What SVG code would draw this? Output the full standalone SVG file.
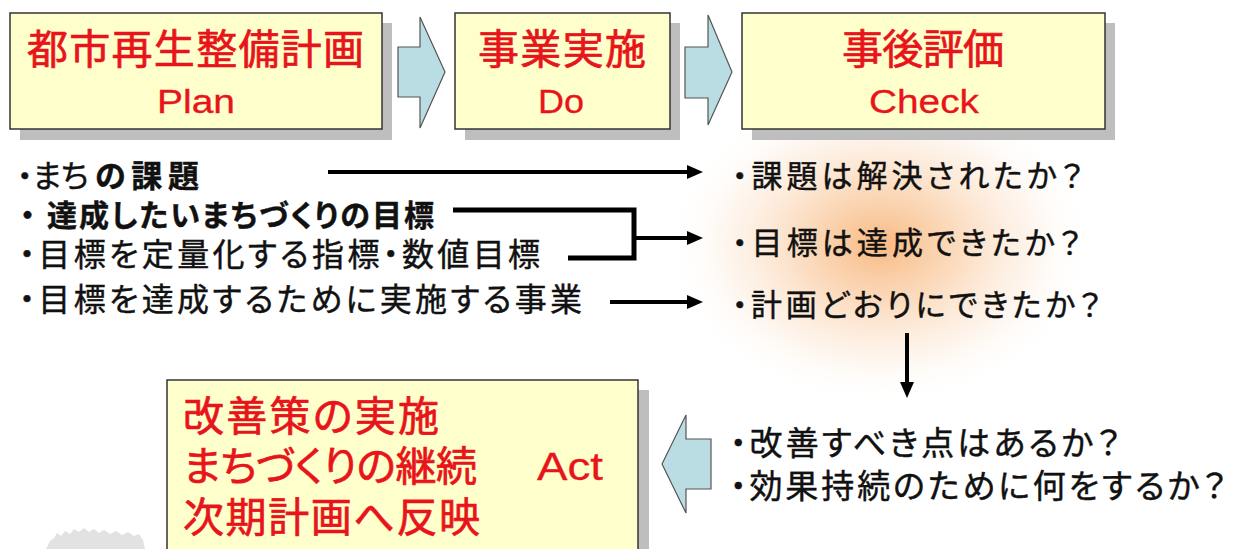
<svg xmlns="http://www.w3.org/2000/svg" width="1233" height="549" viewBox="0 0 1233 549">
<defs>
<style>
.jp{font-family:"Noto Sans CJK JP","Noto Sans CJK SC",sans-serif;font-feature-settings:"palt";}
.lat{font-family:"Liberation Sans",Arial,sans-serif;}
.red{fill:#E8141B;stroke:#E8141B;stroke-width:0.7;}
.lat.red{stroke-width:0.3;}
.blk{fill:#111;stroke:#111;stroke-width:0.45;}
.box{fill:#FFFFCC;stroke:#333;stroke-width:1.5;}
.shadow{fill:#BEBEBE;}
.barrow{fill:#B9DDE2;stroke:#555;stroke-width:1.2;stroke-linejoin:miter;}
.con{fill:none;stroke:#000;stroke-width:4;}
.bracket{fill:none;stroke:#000;stroke-width:5;stroke-linejoin:miter;}
.t1{font-size:41px;}
.t2{font-size:33px;}
.t3{font-size:41px;}
.l30{font-size:30px;}
.l32{font-size:32px;}
.l31{font-size:31px;}
.l33{font-size:33px;}
</style>
<marker id="ah" markerWidth="16" markerHeight="14" refX="2" refY="7" orient="auto" markerUnits="userSpaceOnUse">
<path d="M0,0 L16,7 L0,14 z" fill="#000"/>
</marker>
<radialGradient id="glow" cx="0.5" cy="0.5" r="0.5">
<stop offset="0" stop-color="#F6A862" stop-opacity="0.8"/>
<stop offset="0.35" stop-color="#F8BC86" stop-opacity="0.55"/>
<stop offset="0.7" stop-color="#FBDABC" stop-opacity="0.28"/>
<stop offset="1" stop-color="#FFFFFF" stop-opacity="0"/>
</radialGradient>
</defs>
<rect x="0" y="0" width="1233" height="549" fill="#FFFFFF"/>
<ellipse cx="880" cy="245" rx="215" ry="160" fill="url(#glow)"/>
<path d="M46,549 L50,541 L54,538 L57,533 L61,536 L65,531 L70,534 L74,529 L79,532 L84,528 L89,532 L94,529 L99,533 L104,530 L110,534 L116,531 L122,535 L128,532 L134,536 L139,534 L143,540 L145,549 Z" fill="#CFCFCF" opacity="0.6"/>

<g id="plan">
<rect class="shadow" x="20" y="23" width="372" height="117"/>
<rect class="box" x="10" y="13" width="372" height="116"/>
<text class="jp red t1" x="27" y="64" textLength="337">都市再生整備計画</text>
<text class="lat red t2" x="157" y="113" textLength="78" lengthAdjust="spacingAndGlyphs">Plan</text>
</g>

<g id="do">
<rect class="shadow" x="465" y="23" width="215" height="117"/>
<rect class="box" x="455" y="13" width="215" height="116"/>
<text class="jp red t1" x="478" y="64" textLength="168">事業実施</text>
<text class="lat red t2" x="538" y="113" textLength="46" lengthAdjust="spacingAndGlyphs">Do</text>
</g>

<g id="check">
<rect class="shadow" x="752" y="23" width="363" height="117"/>
<rect class="box" x="742" y="13" width="363" height="116"/>
<text class="jp red t1" x="842" y="64" textLength="162">事後評価</text>
<text class="lat red t2" x="869" y="113" textLength="110" lengthAdjust="spacingAndGlyphs">Check</text>
</g>

<g id="act">
<rect class="shadow" x="177" y="390" width="472" height="170"/>
<rect class="box" x="167" y="380" width="471" height="175"/>
<text class="jp red t3" x="183" y="431" textLength="256">改善策の実施</text>
<text class="jp red t3" x="183" y="481" textLength="294">まちづくりの継続</text>
<text class="jp red t3" x="183" y="532" textLength="297">次期計画へ反映</text>
<text class="lat red" style="font-size:39px" x="537" y="480" textLength="66" lengthAdjust="spacingAndGlyphs">Act</text>
</g>

<g id="plan-items">
<text class="jp blk l31" x="17" y="187">・まち</text>
<text class="jp blk l31" x="95" y="187" textLength="104" font-weight="bold">の課題</text>
<text class="jp blk l30" x="20" y="226" font-weight="bold">・</text>
<text class="jp blk l30" x="47" y="226" textLength="387" font-weight="bold">達成したいまちづくりの目標</text>
<text class="jp blk l32" x="19" y="266" textLength="521">・目標を定量化する指標・数値目標</text>
<text class="jp blk l32" x="19" y="311" textLength="563">・目標を達成するために実施する事業</text>
</g>

<g id="check-items">
<text class="jp blk l31" x="732" y="187" textLength="351">・課題は解決されたか？</text>
<text class="jp blk l31" x="732" y="254" textLength="349">・目標は達成できたか？</text>
<text class="jp blk l31" x="732" y="316" textLength="369">・計画どおりにできたか？</text>
</g>

<g id="act-items">
<text class="jp blk l33" x="730" y="455" textLength="390">・改善すべき点はあるか？</text>
<text class="jp blk l33" x="730" y="498" textLength="496">・効果持続のために何をするか？</text>
</g>

<g id="connectors">
<polygon class="barrow" points="398,47 420,47 420,17 445,72 420,128 420,97 398,97"/>
<polygon class="barrow" points="685,47 708,47 708,15 732,72 708,125 708,98 685,98"/>
<polygon class="barrow" points="662,464 686,415 686,439 711,439 711,489 686,489 686,513"/>
<line class="con" x1="328" y1="172" x2="689" y2="172" marker-end="url(#ah)"/>
<path class="bracket" d="M453,210 H634 V258 H568"/>
<line class="con" x1="634" y1="238" x2="689" y2="238" marker-end="url(#ah)"/>
<line class="con" x1="610" y1="302" x2="689" y2="302" marker-end="url(#ah)"/>
<line class="con" x1="907" y1="333" x2="907" y2="384" marker-end="url(#ah)"/>
</g>
</svg>
